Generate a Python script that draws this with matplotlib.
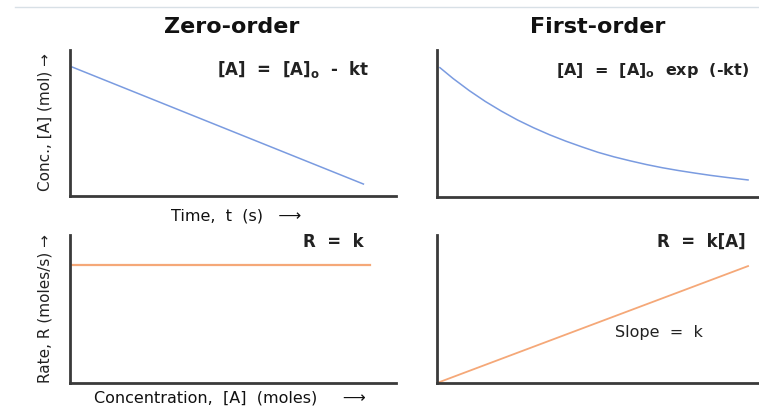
import matplotlib
matplotlib.use("Agg")
import matplotlib.pyplot as plt
from matplotlib.lines import Line2D

# ---- data ----
zero_t = [0.06, 9.0]
zero_conc = [0.884, 0.082]

first_t = [0.09, 0.5, 1.0, 1.5, 2.0, 2.5, 3.0, 3.5, 4.0, 4.5, 5.0,
           5.5, 6.0, 6.5, 7.0, 7.5, 8.0, 8.5, 9.0, 9.5, 9.66]
first_conc = [0.88, 0.806, 0.724, 0.650, 0.584, 0.524, 0.471, 0.423, 0.380, 0.341, 0.304,
              0.273, 0.246, 0.221, 0.199, 0.180, 0.163, 0.147, 0.133, 0.120, 0.116]

zero_rate_conc = [0.06, 9.2]
zero_rate = [0.80, 0.80]

first_rate_conc = [0.0, 9.66]
first_rate = [0.0, 0.79]

titles = ["Zero-order", "First-order"]
eqs = ["[A]  =  [A]$_\\mathregular{o}$  -  kt", "[A]  =  [A]$_\\mathregular{o}$  exp  (-kt)",
       "R  =  k", "R  =  k[A]"]

W, H = 759, 408
fig = plt.figure(figsize=(W / 100, H / 100), dpi=100)

BLUE = "#7a9be0"
ORANGE = "#f5a878"
SPINE = "#3a3a3a"

def add_ax(x0, y0, x1, y1):
    ax = fig.add_axes([x0 / W, 1 - y1 / H, (x1 - x0) / W, (y1 - y0) / H])
    ax.set_xlim(0, 10)
    ax.set_ylim(0, 1)
    for s in ["top", "right"]:
        ax.spines[s].set_visible(False)
    for s in ["left", "bottom"]:
        ax.spines[s].set_color(SPINE)
        ax.spines[s].set_linewidth(2)
    ax.set_xticks([])
    ax.set_yticks([])
    ax.patch.set_alpha(0)
    return ax

ax1 = add_ax(70, 50, 396, 196)
ax2 = add_ax(437, 50, 759, 197)
ax3 = add_ax(70, 235, 396, 383)
ax4 = add_ax(437, 235, 759, 383)

ax1.plot(zero_t, zero_conc, color=BLUE, lw=1.1)
ax2.plot(first_t, first_conc, color=BLUE, lw=1.1)
ax3.plot(zero_rate_conc, zero_rate, color=ORANGE, lw=1.6)
ax4.plot(first_rate_conc, first_rate, color=ORANGE, lw=1.3)

def ftxt(x, y, s, **kw):
    fig.text(x / W, 1 - y / H, s, **kw)

# top rule
fig.add_artist(Line2D([15 / W, 1], [1 - 7 / H, 1 - 7 / H], color="#d8e0e6", lw=1))

ftxt(232, 27, titles[0], ha="center", va="center", fontsize=16, fontweight="bold", color="#111111")
ftxt(598, 27, titles[1], ha="center", va="center", fontsize=16, fontweight="bold", color="#111111")

ftxt(370, 70, eqs[0], ha="right", va="center", fontsize=12, fontweight="bold", color="#222222")
ftxt(749, 70, eqs[1], ha="right", va="center", fontsize=11.5, fontweight="bold", color="#222222")
ftxt(364, 242, eqs[2], ha="right", va="center", fontsize=12, fontweight="bold", color="#222222")
ftxt(746, 242, eqs[3], ha="right", va="center", fontsize=12, fontweight="bold", color="#222222")
ftxt(659, 332, "Slope  =  k", ha="center", va="center", fontsize=11.5, color="#222222")

ftxt(45, 122, "Conc., [A] (mol) \u2192", ha="center", va="center", rotation=90,
     fontsize=11, color="#222222")
ftxt(45, 309, "Rate, R (moles/s) \u2192", ha="center", va="center", rotation=90,
     fontsize=11, color="#222222")
ftxt(236, 216, "Time,  t  (s)   \u27f6", ha="center", va="center", fontsize=11.5, color="#111111")
ftxt(230, 398, "Concentration,  [A]  (moles)     \u27f6", ha="center", va="center", fontsize=11.5, color="#111111")

fig.savefig("out.png", dpi=100)
